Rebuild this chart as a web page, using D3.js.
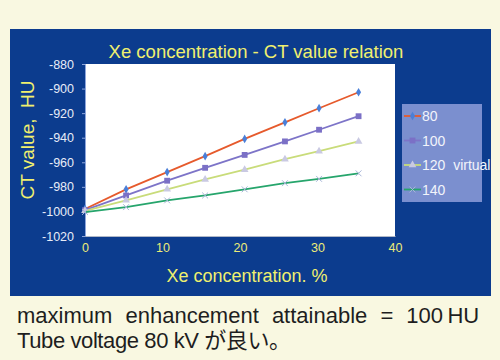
<!DOCTYPE html>
<html><head><meta charset="utf-8">
<script src="https://cdn.jsdelivr.net/npm/d3@7"></script>
<style>
html,body{margin:0;padding:0;background:#f9f8e1;}
svg{display:block;}
</style></head>
<body>
<script>
const xeConc = [0, 5.3, 10.6, 15.5, 20.6, 25.8, 30.2, 35.3];
const seriesNames = ["80", "100", "120  virtual", "140"];
const ct80  = [-998, -982, -968, -955, -941, -927.5, -916, -903];
const ct100 = [-999, -987, -975, -964.5, -954, -943, -933.5, -922.5];
const ct120 = [-999.5, -991, -982, -974, -966, -957.5, -951, -943];
const ct140 = [-1000.5, -996.5, -991, -987, -982, -977, -973.5, -969];
const xTicks = [0, 10, 20, 30, 40];
const yTicks = [-880, -900, -920, -940, -960, -980, -1000, -1020];
const titleText = "Xe concentration - CT value relation";
const xTitle = "Xe concentration. %";
const yTitle = "CT value,  HU";
const note1 = "maximum enhancement attainable = 100\u2009HU";
const note2 = "Tube voltage 80 kV が良い。";

const seriesValues = [ct80, ct100, ct120, ct140];
const lineColors = ["#e65a2c", "#7d74c8", "#c9dc7a", "#26a56c"];
const markerColors = ["#4a7fd8", "#7b70c6", "#c9c9e2", "#a9b6d8"];
const markerTypes = ["diamond", "square", "triangle", "x"];

const W = 500, H = 360;
const svg = d3.select("body").append("svg").attr("width", W).attr("height", H);
svg.append("rect").attr("width", W).attr("height", H).attr("fill", "#f9f8e1");
svg.append("rect").attr("x", 10).attr("y", 29).attr("width", 481).attr("height", 267).attr("fill", "#0c3c8e");

const x = d3.scaleLinear().domain([0, 40]).range([85, 395]);
const y = d3.scaleLinear().domain([-1020, -880]).range([236, 64]);

svg.append("rect").attr("x", x(0)).attr("y", y(-880)).attr("width", x(40) - x(0)).attr("height", y(-1020) - y(-880)).attr("fill", "#ffffff");

const font = "Liberation Sans, Arial, sans-serif";

const yAxis = svg.append("g").attr("transform", `translate(${x(0)},0)`)
  .call(d3.axisLeft(y).tickValues(yTicks).tickSize(3).tickPadding(8).tickFormat(d => String(d)));
yAxis.selectAll("text").attr("fill", "#e8ecf8").attr("font-family", font).attr("font-size", 12.5);
yAxis.selectAll("line").attr("stroke", "#8ea6dc");
yAxis.select(".domain").attr("stroke", "#8ea6dc");

const xAxis = svg.append("g").attr("transform", `translate(0,${y(-1020)})`)
  .call(d3.axisBottom(x).tickValues(xTicks).tickSize(0).tickPadding(7).tickFormat(d => String(d)));
xAxis.selectAll("text").attr("fill", "#ecec78").attr("font-family", font).attr("font-size", 12.5);
xAxis.select(".domain").attr("stroke", "#b0b8c8");

const line = d3.line().x((d, i) => x(xeConc[i])).y(d => y(d));
function marker(g, type, color, cx, cy) {
  if (type === "diamond") {
    g.append("path").attr("d", d3.symbol(d3.symbolDiamond, 22)()).attr("transform", `translate(${cx},${cy})`).attr("fill", color);
  } else if (type === "square") {
    g.append("path").attr("d", d3.symbol(d3.symbolSquare, 34)()).attr("transform", `translate(${cx},${cy})`).attr("fill", color);
  } else if (type === "triangle") {
    g.append("path").attr("d", d3.symbol(d3.symbolTriangle, 26)()).attr("transform", `translate(${cx},${cy})`).attr("fill", color);
  } else {
    g.append("path").attr("d", d3.symbol(d3.symbolX, 24)()).attr("transform", `translate(${cx},${cy})`).attr("fill", "none").attr("stroke", color).attr("stroke-width", 1);
  }
}
seriesValues.forEach((vals, si) => {
  const g = svg.append("g");
  g.append("path").datum(vals).attr("d", line).attr("fill", "none").attr("stroke", lineColors[si]).attr("stroke-width", 1.8);
  vals.forEach((v, i) => marker(g, markerTypes[si], markerColors[si], x(xeConc[i]), y(v)));
});

const lg = svg.append("g");
lg.append("rect").attr("x", 402).attr("y", 104).attr("width", 80).attr("height", 98).attr("fill", "#7b8fcf");
const legendY = d3.scalePoint().domain(seriesNames).range([116, 189.5]);
seriesNames.forEach((n, si) => {
  const ly = legendY(n);
  lg.append("line").attr("x1", 404).attr("x2", 421).attr("y1", ly).attr("y2", ly).attr("stroke", lineColors[si]).attr("stroke-width", 1.8);
  marker(lg, markerTypes[si], markerColors[si], 412.5, ly);
  lg.append("text").attr("x", 422).attr("y", ly + 5).text(n).attr("fill", "#f2f4fb").attr("font-family", font).attr("font-size", 14).style("white-space", "pre");
});

svg.append("text").attr("x", 256).attr("y", 58).attr("text-anchor", "middle").text(titleText)
  .attr("fill", "#f0f06e").attr("font-family", font).attr("font-size", 18.5);
svg.append("text").attr("x", 247).attr("y", 282).attr("text-anchor", "middle").text(xTitle)
  .attr("fill", "#f0f06e").attr("font-family", font).attr("font-size", 18);
svg.append("text").attr("transform", "translate(34,140) rotate(-90)").attr("text-anchor", "middle").text(yTitle)
  .attr("fill", "#f0f06e").attr("font-family", font).attr("font-size", 19).style("white-space", "pre");

const noteFont = "Liberation Sans, Arial, Noto Sans CJK JP, sans-serif";
svg.append("text").attr("x", 17).attr("y", 323).text(note1).attr("fill", "#1e1e1e")
  .attr("font-family", noteFont).attr("font-size", 22).attr("word-spacing", 7).style("white-space", "pre");
svg.append("text").attr("x", 17).attr("y", 348).text(note2).attr("fill", "#1e1e1e")
  .attr("font-family", noteFont).attr("font-size", 22).attr("letter-spacing", -0.4);
</script>
</body></html>
